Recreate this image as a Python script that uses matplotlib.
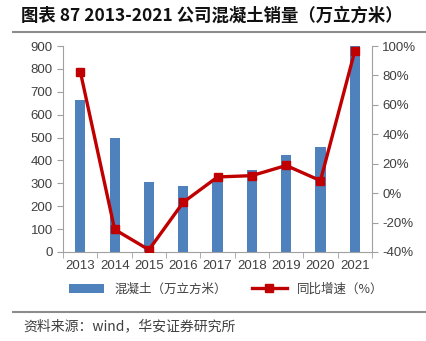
import matplotlib
matplotlib.use('Agg')
import matplotlib.pyplot as plt
from matplotlib.lines import Line2D
import numpy as np

plt.rcParams['font.family'] = ['Liberation Sans', 'Noto Sans CJK SC', 'DejaVu Sans']

# data
years = ['2013', '2014', '2015', '2016', '2017', '2018', '2019', '2020', '2021']
volume = [663, 499, 307, 288, 319, 357, 424, 460, 904]          # 万立方米
growth = [82.5, -24.7, -38.5, -6.2, 11.0, 11.9, 18.8, 8.5, 96.5]  # %

bar_color = '#4F81BD'
line_color = '#C00000'
text_color = '#404040'
spine_color = '#A0A0A0'

fig = plt.figure(figsize=(4.27, 3.41), dpi=100)
ax = fig.add_axes([0.148, 0.261, 0.723, 0.604])
ax2 = ax.twinx()

x = np.arange(len(years))
bars = ax.bar(x, volume, width=0.3, color=bar_color, zorder=2, label='混凝土（万立方米）')
line, = ax2.plot(x, growth, color=line_color, lw=2.4, marker='s', markersize=6,
                 label='同比增速（%）', zorder=3)

ax.set_xlim(-0.5, len(years) - 0.5)
ax.set_ylim(0, 900)
ax.set_yticks(range(0, 901, 100))
ax2.set_ylim(-40, 100)
ax2.set_yticks(range(-40, 101, 20))
ax2.set_yticklabels([f'{v}%' for v in range(-40, 101, 20)])

ax.set_xticks(x)
ax.set_xticklabels(years)
ax.set_xticks(np.arange(-0.5, len(years), 1), minor=True)
ax.tick_params(axis='x', which='major', length=0, labelsize=9.5, colors=text_color, pad=6)
ax.tick_params(axis='x', which='minor', length=4, color=spine_color)
ax.tick_params(axis='y', length=4, color=spine_color, labelsize=9.5, labelcolor=text_color)
ax2.tick_params(axis='y', length=4, color=spine_color, labelsize=9.5, labelcolor=text_color)

for a in (ax, ax2):
    a.spines['top'].set_visible(False)
    for s in ('left', 'right', 'bottom'):
        a.spines[s].set_color(spine_color)
ax.spines['right'].set_visible(False)
ax2.spines['left'].set_visible(False)
ax2.spines['bottom'].set_visible(False)

# legend
handles = [bars, Line2D([0], [0], color=line_color, lw=2.4, marker='s', markersize=6)]
labels = ['混凝土（万立方米）', '同比增速（%）']
fig.legend(handles, labels, loc='center', bbox_to_anchor=(0.53, 0.152), ncol=2,
           frameon=False, handlelength=2.8, columnspacing=2.0,
           labelcolor=text_color, prop={'family': ['Noto Sans CJK SC'], 'size': 9})

# title and separators
fig.text(0.05, 0.955, '图表 87 2013-2021 公司混凝土销量（万立方米）', fontsize=12.5,
         fontweight='bold', family=['Noto Sans CJK SC'], color='#111111', va='center')
fig.add_artist(Line2D([0.03, 1.0], [0.906, 0.906], color='#8C8C8C', lw=1.5))
fig.add_artist(Line2D([0.03, 1.0], [0.085, 0.085], color='#8C8C8C', lw=1.5))
fig.text(0.055, 0.042, '资料来源：wind，华安证券研究所', fontsize=10, color='#404040',
         family=['Noto Sans CJK SC', 'DejaVu Sans'], va='center')

fig.savefig('out.png', dpi=100)
